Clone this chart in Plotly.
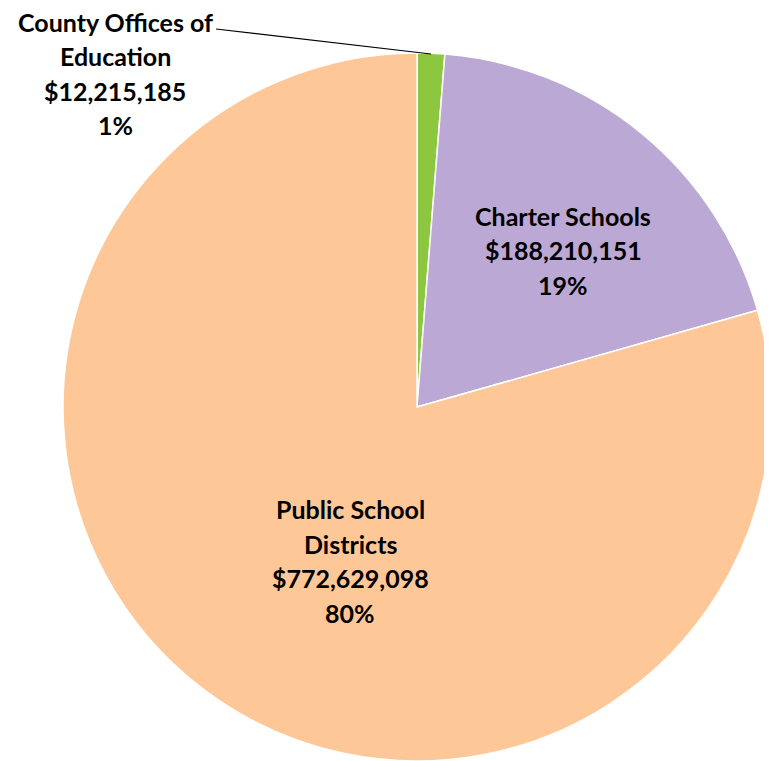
import plotly.graph_objects as go

categories = ["County Offices of Education", "Charter Schools", "Public School Districts"]
label_lines = [["County Offices of", "Education"], ["Charter Schools"], ["Public School", "Districts"]]
values = [12215185, 188210151, 772629098]
pct_labels = ["1%", "19%", "80%"]
colors = ["#8DC63F", "#BCA8D4", "#FEC797"]

W, H = 772, 761
OFF = 8  # page body margin


def px(x):
    return (x - OFF) / W


def py(y):
    return 1 - (y - OFF) / H


fig = go.Figure(go.Pie(
    labels=categories,
    values=values,
    sort=False,
    direction="clockwise",
    rotation=0,
    textinfo="none",
    hoverinfo="label+value+percent",
    marker=dict(colors=colors, line=dict(color="#FFFFFF", width=1.5)),
    domain=dict(x=[px(63), px(771)], y=[py(761), py(53)]),
    showlegend=False,
))

label_pos = [(115, 22), (563, 216), (350, 509)]
spacing = 34.5
annotations = []
for i in range(3):
    lines = label_lines[i] + ["${:,}".format(values[i]), pct_labels[i]]
    x0, y0 = label_pos[i]
    for j, t in enumerate(lines):
        annotations.append(dict(
            x=px(x0), y=py(y0 + j * spacing), xref="paper", yref="paper",
            text="<b>" + t + "</b>", showarrow=False, xanchor="center", yanchor="middle",
            borderpad=0,
            font=dict(family="Lato, Open Sans, sans-serif", size=25, color="#000000"),
        ))

fig.update_layout(
    width=W, height=H,
    margin=dict(l=0, r=0, t=0, b=0),
    paper_bgcolor="#FFFFFF", plot_bgcolor="#FFFFFF",
    annotations=annotations,
    shapes=[dict(type="line", xref="paper", yref="paper",
                 x0=px(216), y0=py(29), x1=px(431), y1=py(54),
                 line=dict(color="#000000", width=1.2))],
)

fig.write_html("out.html")
